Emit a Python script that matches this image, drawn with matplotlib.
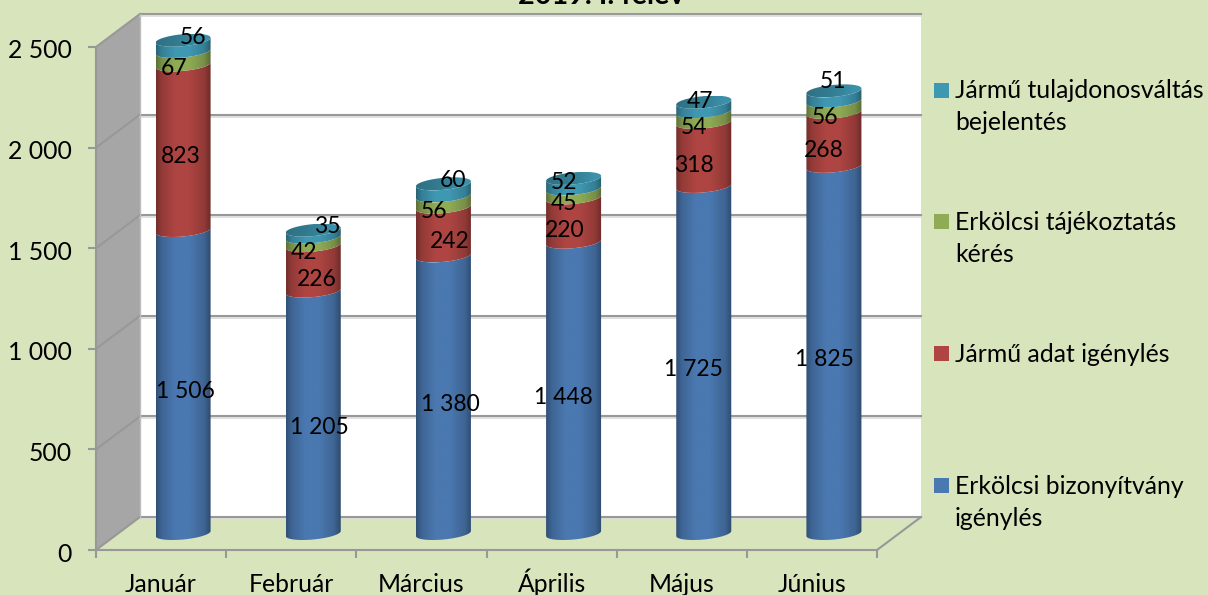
import numpy as np
import matplotlib
matplotlib.use("Agg")
import matplotlib.pyplot as plt
from matplotlib.path import Path
from matplotlib.patches import PathPatch, Rectangle
from matplotlib.transforms import Affine2D

plt.rcParams['font.family'] = ['Lato', 'DejaVu Sans']

months = ["Január", "Február", "Március", "Április", "Május", "Június"]
erkolcsi_bizonyitvany = [1506, 1205, 1380, 1448, 1725, 1825]
jarmu_adat = [823, 226, 242, 220, 318, 268]
erkolcsi_tajekoztatas = [67, 42, 56, 45, 54, 56]
tulajdonosvaltas = [56, 35, 60, 52, 47, 51]
y_ticks = [0, 500, 1000, 1500, 2000, 2500]
y_tick_labels = ["0", "500", "1 000", "1 500", "2 000", "2 500"]
title = "2019. I. félév"

series = [erkolcsi_bizonyitvany, jarmu_adat, erkolcsi_tajekoztatas, tulajdonosvaltas]
colors = ["#4A78B0", "#AE4542", "#8FAB55", "#3F98B2"]

# label shifts in pixels (the labels were moved by hand in the original)
label_dx = [[2, 6, 7, -10, -10, -9],
            [-2, 4, 6, -9, -10, -10],
            [-9, -9, -9, -10, -10, -9],
            [10, 14, 10, -10, -4, -1]]
label_dy = [[10, 15, 10, 10, 10, 10],
            [9, 11, 10, 10, 11, 11],
            [10, 11, 10, 10, 10, 11],
            [-8, -7, -9, -1, -5, -14]]

W, H = 1208, 595
x0_px, y0_px = 96, 550
px_x = 781 / 6      # pixels per category
px_y = 503 / 2500   # pixels per unit
depth_x = 44 / px_x
depth_y = 33 / px_y
bg = "#D8E4BC"
line = "#989898"
fs = 16.5
fs_axis = 17.8

fig = plt.figure(figsize=(W / 100, H / 100), dpi=100, facecolor=bg)
ax = fig.add_axes([0, 0, 1, 1], facecolor="none")
xlim = (-x0_px / px_x, (W - x0_px) / px_x)
ylim = (-(H - y0_px) / px_y, y0_px / px_y)

# walls
ax.fill([depth_x, 6 + depth_x, 6 + depth_x, depth_x],
        [depth_y, depth_y, 2500 + depth_y, 2500 + depth_y], color="white", lw=0, zorder=1)
ax.fill([0, depth_x, depth_x, 0], [0, depth_y, 2500 + depth_y, 2500], color="#A6A6A6", lw=0, zorder=1)

# gridlines, back wall and side wall
for v in y_ticks:
    ax.plot([depth_x, 6 + depth_x], [v + depth_y - 2 / px_y] * 2, color="#DCDCDC", lw=1.2, zorder=2)
    ax.plot([depth_x, 6 + depth_x], [v + depth_y] * 2, color=line, lw=1.5, zorder=2)
    ax.plot([0, depth_x], [v, v + depth_y], color=line, lw=1.5, zorder=2)
ax.plot([depth_x, depth_x], [depth_y, 2500 + depth_y], color="#BEBEBE", lw=1.0, zorder=2)
ax.plot([6, 6 + depth_x], [0, depth_y], color=line, lw=1.5, zorder=2)

# cylinders
r = 27.5 / px_x
b = 6 / px_y
tilt = 2.5 / px_y
shade_t = [0, 0.1, 0.35, 0.6, 0.88, 1]
shade_v = [0.66, 0.84, 1.0, 1.0, 0.84, 0.62]
lid_v = [0.72, 0.76, 0.8, 0.86, 0.96, 0.95]
grad_x = np.linspace(0, 1, 120)


def gradient(color, profile):
    rgb = np.array(matplotlib.colors.to_rgb(color))
    m = np.interp(grad_x, shade_t, profile)
    return np.clip(m[:, None] * rgb, 0, 1)[None, :, :]


def paint(verts, color, cx, profile):
    verts = np.array(verts)
    patch = PathPatch(Path(np.vstack([verts, verts[0]]), closed=True), transform=ax.transData,
                      facecolor="none", edgecolor="none")
    ax.add_patch(patch)
    im = ax.imshow(gradient(color, profile), extent=(cx - r, cx + r, verts[:, 1].min(), verts[:, 1].max()),
                   aspect="auto", interpolation="bilinear", zorder=3)
    im.set_clip_path(patch)


t_front = np.linspace(np.pi, 2 * np.pi, 60)
t_all = np.linspace(0, 2 * np.pi, 120)
for i in range(len(months)):
    cx = i + 0.5 + depth_x / 2
    base = 0
    for s, vals in enumerate(series):
        top = base + vals[i]
        yb = depth_y / 2 + base
        yt = depth_y / 2 + top
        low = np.c_[cx + r * np.cos(t_front), yb + b * np.sin(t_front) + tilt * np.cos(t_front)]
        up = np.c_[cx + r * np.cos(t_front), yt + b * np.sin(t_front) + tilt * np.cos(t_front)]
        paint(np.vstack([low, up[::-1]]), colors[s], cx, shade_v)
        ax.annotate(f"{vals[i]:,}".replace(",", " "), xy=(cx, depth_y / 2 + base + vals[i] / 2),
                    xytext=(label_dx[s][i], -label_dy[s][i]), textcoords="offset pixels",
                    ha="center", va="center", fontsize=fs, color="black", zorder=6)
        base = top
    lid = np.c_[cx + r * np.cos(t_all), depth_y / 2 + base + b * np.sin(t_all) + tilt * np.cos(t_all)]
    paint(lid, colors[3], cx, lid_v)

# axes
for side in ["top", "right"]:
    ax.spines[side].set_visible(False)
ax.spines["left"].set_position(("data", 0))
ax.spines["bottom"].set_position(("data", 0))
ax.spines["left"].set_bounds(0, 2500)
ax.spines["bottom"].set_bounds(0, 6)
ax.spines["left"].set_color(line)
ax.spines["bottom"].set_color(line)
ax.spines["left"].set_linewidth(1.5)
ax.spines["bottom"].set_linewidth(1.5)
ax.set_yticks(y_ticks, y_tick_labels, fontsize=fs_axis)
ax.set_xticks(range(7), [""] * 7)
ax.set_xticks(np.arange(len(months)) + 0.5, months, minor=True, fontsize=fs_axis)
ax.tick_params(axis="both", which="major", direction="out", length=5.5, width=1.5, color=line)
ax.tick_params(axis="y", pad=12)
ax.tick_params(axis="x", which="minor", length=0, pad=30.2)
for lab in ax.get_xticklabels(minor=True):
    lab.set_verticalalignment("baseline")
for lab in ax.get_yticklabels():
    lab.set_transform(lab.get_transform() + Affine2D().translate(0, -2))
ax.set_xlim(xlim)
ax.set_ylim(ylim)

# title runs off the top of the picture, as in the original
fig.text(601 / W, 1 - 4 / H, title, ha="center", va="baseline", fontsize=20.7, fontweight="bold", color="black")

# legend
legend_items = [(colors[3], 90.5, ["Jármű tulajdonosváltás", "bejelentés"]),
                (colors[2], 221.5, ["Erkölcsi tájékoztatás", "kérés"]),
                (colors[1], 353.5, ["Jármű adat igénylés"]),
                (colors[0], 485.5, ["Erkölcsi bizonyítvány", "igénylés"])]
for color, y, lines in legend_items:
    fig.patches.append(Rectangle((934 / W, 1 - (y + 7.5) / H), 15 / W, 15 / H, transform=fig.transFigure,
                                 facecolor=color, edgecolor="none", figure=fig))
    for n, txt in enumerate(lines):
        fig.text(955 / W, 1 - (y + 8 + 32 * n) / H, txt, ha="left", va="baseline", fontsize=fs_axis, color="black")

plt.savefig("out.png", dpi=100, facecolor=bg)
